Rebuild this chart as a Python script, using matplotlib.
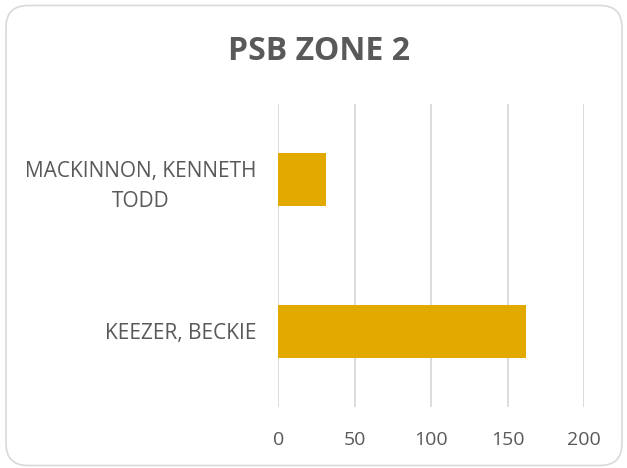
import matplotlib
matplotlib.use("Agg")
import matplotlib.pyplot as plt
from matplotlib.patches import FancyBboxPatch

plt.rcParams['font.family'] = ['Open Sans', 'DejaVu Sans']

# data
names = ["KEEZER, BECKIE", "MACKINNON, KENNETH\nTODD"]
votes = [162, 31]
xticks = [0, 50, 100, 150, 200]

text_col = '#595959'
bar_col = '#E2AA00'
grid_col = '#D9D9D9'

fig = plt.figure(figsize=(6.27, 4.68), dpi=100)
ax = fig.add_axes([0.4439, 0.1297, 0.488, 0.648])

ax.barh(range(len(names)), votes, height=0.35, color=bar_col, zorder=3)

ax.set_xlim(0, 200)
ax.set_ylim(-0.5, len(names) - 0.5)
ax.set_xticks(xticks)
ax.set_yticks(range(len(names)))
ax.set_yticklabels(names, ha='right', multialignment='center', linespacing=1.55)
ax.tick_params(axis='y', length=0, pad=16, labelsize=15, labelcolor=text_col)
ax.tick_params(axis='x', length=0, pad=17, labelsize=14, labelcolor=text_col)
ax.grid(axis='x', color=grid_col, linewidth=1.3, zorder=0)
for s in ax.spines.values():
    s.set_visible(False)

fig.text(0.509, 0.889, "PSB ZONE 2", ha='center', va='center',
         fontsize=23, fontweight='bold', color=text_col)

# rounded chart border
border = FancyBboxPatch((0.06, 0.025), 6.16, 4.6,
                        boxstyle="round,pad=0,rounding_size=0.22",
                        transform=fig.dpi_scale_trans, facecolor='none',
                        edgecolor=grid_col, linewidth=1.2)
fig.patches.append(border)

plt.savefig('out.png', dpi=100)
